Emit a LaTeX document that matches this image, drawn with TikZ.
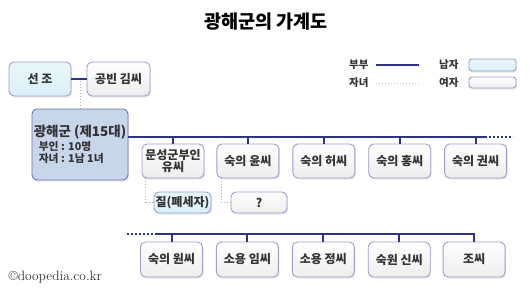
\documentclass[tikz,border=0pt]{standalone}
\usepackage{fontspec}
\newfontfamily\krfont{Noto Sans CJK KR}
\usetikzlibrary{positioning,shadows}
\definecolor{linenavy}{HTML}{2E3480}
\definecolor{boxedge}{HTML}{9A9FCF}
\definecolor{malefill}{HTML}{D8F0F7}
\definecolor{kingfill}{HTML}{C8D6EC}
\definecolor{kingedge}{HTML}{6A74AC}
\definecolor{childdot}{HTML}{ABABAB}
\definecolor{textgray}{HTML}{333333}

\tikzset{
  person/.style={draw=boxedge,rounded corners=5pt,line width=0.9pt,minimum width=62pt,minimum height=34pt,
    inner sep=1pt,align=center,text=textgray,font=\krfont\bfseries\fontsize{12}{12.5}\selectfont,
    drop shadow={opacity=0.18,shadow xshift=1pt,shadow yshift=-1.5pt}},
  female/.style={person,top color=white,bottom color=gray!14},
  male/.style={person,top color=malefill!55,bottom color=malefill},
  kingbox/.style={person,draw=kingedge,fill=kingfill,align=left,minimum width=96pt,minimum height=71pt,
    font=\krfont\bfseries\fontsize{10.8}{12.5}\selectfont},
  spouse/.style={linenavy,line width=2.4pt},
  offspring/.style={childdot,dotted,line width=1pt},
  keytext/.style={text=textgray,font=\krfont\bfseries\fontsize{10.5}{12}\selectfont}
}

\begin{document}
\begin{tikzpicture}[x=1pt,y=-1pt]
\useasboundingbox[fill=white] (0,0) rectangle (530,290);
\node[font=\krfont\bfseries\fontsize{18.5}{20}\selectfont] (title) at (266,22) {광해군의 가계도};

% legend
\node[keytext,anchor=east] (couplekey) at (372,65) {부부};
\node[keytext,anchor=east] (childkey) at (372,83) {자녀};
\coordinate (coupleline) at (419,65);
\coordinate (childline) at (421,83);
\draw[spouse,line width=2pt] ([xshift=4pt]couplekey.east) -- (coupleline);
\draw[offspring,draw=gray!45] ([xshift=4pt]childkey.east) -- (childline);
\node[keytext,anchor=east] (malekey) at (462,65) {남자};
\node[keytext,anchor=east] (femalekey) at (462,83) {여자};
\node[male,minimum width=47pt,minimum height=12pt,rounded corners=3pt] (malebox) at (492.5,65) {};
\node[female,minimum width=47pt,minimum height=11pt,rounded corners=3pt] (femalebox) at (492.5,82.5) {};

% parents
\coordinate (wed) at (80,81);
\draw[offspring] (wed) -- (80,109);
\node[male] (seonjo) at (40,79) {선 조};
\node[female,minimum width=63pt] (gongbin) at (118.5,79) {공빈 김씨};
\draw[spouse] (seonjo) -- (gongbin);

% wives, first row
\coordinate (trunkend) at (485,137);
\coordinate (trunkmore) at (513,137);
\node[female] (munseong) at (173,161) {문성군부인\\유씨};
\node[female,right=12pt of munseong] (yun) {숙의 윤씨};
\node[female,right=13pt of yun] (heo) {숙의 허씨};
\node[female,right=13pt of heo] (hong) {숙의 홍씨};
\node[female,right=13pt of hong] (gwon) {숙의 권씨};
\node[kingbox] (gwang) at (80,144.5) {{\fontsize{13.5}{15}\selectfont 광해군 (제15대)}\\[1pt]
  \hspace*{5pt}부인 : 10명\\ \hspace*{5pt}자녀 : 1남 1녀};
\draw[spouse] (gwang.east |- trunkend) -- (trunkend);
\draw[spouse,line width=2pt,dash pattern=on 2pt off 2pt] (trunkend) -- (trunkmore);
\draw[spouse,line width=2pt] (munseong.north) -- (munseong.north |- trunkend);
\draw[spouse,line width=2pt] (yun.north) -- (yun.north |- trunkend);
\draw[spouse,line width=2pt] (heo.north) -- (heo.north |- trunkend);
\draw[spouse,line width=2pt] (hong.north) -- (hong.north |- trunkend);
\draw[spouse,line width=2pt] (gwon.north) -- (gwon.north |- trunkend);

% children
\node[male,minimum width=57pt,minimum height=21pt] (jil) at (182.5,202.5) {질(폐세자)};
\node[female,minimum width=56pt,minimum height=21pt] (unknown) at (259,202.5) {?};
\draw[offspring] ([xshift=4pt]munseong.south west) |- (jil.west);
\draw[offspring] ([xshift=5pt]yun.south west) |- (unknown.west);

% wives, second row
\coordinate (lowstart) at (127,234);
\coordinate (lowsolid) at (157,234);
\node[female,minimum height=35pt] (won) at (171.5,259.5) {숙의 원씨};
\node[female,minimum height=35pt,right=13pt of won] (im) {소용 임씨};
\node[female,minimum height=35pt,right=13pt of im] (jeong) {소용 정씨};
\node[female,minimum height=35pt,right=13pt of jeong] (sin) {숙원 신씨};
\node[female,minimum height=35pt,right=12pt of sin] (jo) {조씨};
\draw[spouse,line width=2pt,dash pattern=on 2pt off 2pt] (lowstart) -- (lowsolid);
\draw[spouse] (lowsolid) -- ([xshift=1.2pt]jo.north |- lowsolid);
\draw[spouse,line width=2pt] (won.north) -- (won.north |- lowsolid);
\draw[spouse,line width=2pt] (im.north) -- (im.north |- lowsolid);
\draw[spouse,line width=2pt] (jeong.north) -- (jeong.north |- lowsolid);
\draw[spouse,line width=2pt] (sin.north) -- (sin.north |- lowsolid);
\draw[spouse,line width=2pt] (jo.north) -- (jo.north |- lowsolid);

\node[anchor=west,text=textgray,font=\fontsize{13.5}{15}\selectfont] (credit) at (5,277) {\textcopyright doopedia.co.kr};
\end{tikzpicture}
\end{document}
